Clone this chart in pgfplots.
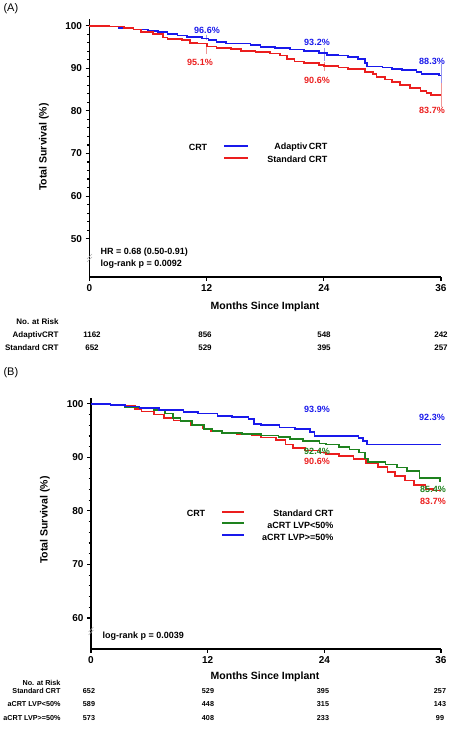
\documentclass[border=0pt]{standalone}
\usepackage{fontspec}
\setmainfont{Liberation Sans}
\usepackage{pgfplots}
\pgfplotsset{compat=1.18}
\definecolor{cblue}{RGB}{25,25,235}
\definecolor{cred}{RGB}{235,30,30}
\definecolor{cgreen}{RGB}{30,130,30}
\definecolor{lblue}{RGB}{150,150,240}
\definecolor{lred}{RGB}{240,150,150}
\pgfplotsset{
  km/.style={
    scale only axis, clip=false, anchor=south west,
    axis x line*=bottom, axis y line*=left,
    axis line style={line width=1.5pt,-},
    xmin=0, xmax=36, xtick={0,12,24,36},
    tick style={black, line width=1.1pt},
    major tick length=4pt, minor tick length=2.5pt,
    tick align=outside,
    tick label style={font=\bfseries\fontsize{10}{12}\selectfont},
    /pgf/number format/assume math mode=true,
  },
  kmline/.style={const plot, line width=1.7pt, line join=miter},
}
\begin{document}
\begin{tikzpicture}
\useasboundingbox (0,0) rectangle (450pt,732pt);
% ---------------- Panel A ----------------
\begin{axis}[km, at={(89.5pt,455pt)}, width=351.5pt, height=257.7pt,
  ymin=41, ymax=101.5, ytick={50,60,...,100}, minor ytick={52,54,...,98}]
\addplot[lblue, line width=0.5pt] coordinates {(12,97.9)(12,96.6)};
\addplot[lred, line width=0.5pt] coordinates {(12,95.1)(12,93.3)};
\addplot[lblue, line width=0.5pt] coordinates {(24,94.8)(24,91.6)};
\addplot[lred, line width=0.5pt] coordinates {(24,91.5)(24,89.4)};
\addplot[lblue, line width=0.5pt] coordinates {(36,91.0)(36,86.0)};
\addplot[lred, line width=0.5pt] coordinates {(36,86.5)(36,80.8)};
\addplot[cblue, kmline] coordinates {
(0,100)(1.5,99.8)(3,99.4)(4.5,99.1)(6,98.8)(7,98.5)(8,98.1)(9,97.7)(10,97.3)
(11.5,97.0)(12.2,96.6)(13,96.1)(14,95.8)(16.5,95.4)(17.5,95.0)(19,94.7)(20.5,94.4)
(22,94.0)(23.5,93.6)(24.3,93.2)(25.5,93.0)(26.5,92.6)(27.5,92.2)(28.2,91.3)(28.4,90.4)
(30,90.2)(31,89.9)(32,89.6)(33.5,89.2)(34,88.6)(35.8,88.3)(36,88.3)};
\addplot[cred, kmline] coordinates {
(0,100)(2,99.8)(3.5,99.4)(4.5,99.1)(5.3,98.5)(6.5,98.0)(7.5,97.2)(8,96.8)(9.5,96.6)
(10.3,96.0)(11,95.8)(12,95.1)(13,94.8)(14.5,94.5)(15.5,94.1)(17,93.9)(18.5,93.5)
(19.5,93.0)(20.2,92.2)(21,91.6)(22,91.2)(23.5,90.8)(24,90.6)(25.5,90.2)(26.5,89.8)
(28.2,89.2)(29,88.6)(29.4,88.0)(30.3,87.4)(31,86.8)(31.8,86.1)(32.8,85.4)(33.9,84.7)
(34.5,84.2)(35,83.7)(36,83.7)};
\end{axis}
\draw[gray!60, line width=0.5pt] (87pt,470pt)--(92pt,475pt) (87pt,473pt)--(92pt,478pt);
\node[anchor=west, font=\fontsize{11}{13}\selectfont] at (0pt,723pt) {(A)};
\node[rotate=90, font=\bfseries\fontsize{10.5}{12}\selectfont] at (44pt,585pt) {Total Survival (\%)};
\begin{scope}[font=\bfseries\fontsize{9}{11}\selectfont]
\node[cblue] at (207pt,702pt) {96.6\%};
\node[cred] at (200pt,670pt) {95.1\%};
\node[cblue] at (317pt,690pt) {93.2\%};
\node[cred] at (317pt,652pt) {90.6\%};
\node[cblue] at (432pt,671pt) {88.3\%};
\node[cred] at (432pt,622pt) {83.7\%};
\node at (198pt,585pt) {CRT};
\draw[cblue, line width=1.5pt] (224pt,586pt)--(248pt,586pt);
\node[anchor=east] at (331pt,585pt) {Adaptiv\,CRT};
\draw[cred, line width=1.5pt] (224pt,574pt)--(248pt,574pt);
\node[anchor=east] at (331pt,573pt) {Standard CRT};
\node[anchor=west] at (97pt,480pt) {HR = 0.68 (0.50-0.91)};
\node[anchor=west] at (97pt,468pt) {log-rank p = 0.0092};
\end{scope}
\node[font=\bfseries\fontsize{10.5}{12}\selectfont] at (265pt,425pt) {Months Since Implant};
\begin{scope}[font=\bfseries\fontsize{8}{10}\selectfont]
\node[anchor=east] at (62pt,410pt) {No. at Risk};
\node[anchor=east] at (62pt,397pt) {AdaptivCRT};
\node[anchor=east] at (62pt,384pt) {Standard CRT};
\node at (92pt,397pt) {1162}; \node at (205pt,397pt) {856}; \node at (324pt,397pt) {548}; \node at (441pt,397pt) {242};
\node at (92pt,384pt) {652}; \node at (205pt,384pt) {529}; \node at (324pt,384pt) {395}; \node at (441pt,384pt) {257};
\end{scope}
% ---------------- Panel B ----------------
\begin{axis}[km, at={(91pt,83pt)}, width=350pt, height=251pt,
  ymin=54.2, ymax=101.1, ytick={60,70,...,100}, minor ytick={62,64,...,98}]
\addplot[cred, kmline] coordinates {
(0,100)(1,99.9)(3.5,99.6)(4.5,99.0)(5.2,98.6)(6.5,98.0)(7.5,97.3)(8.5,96.9)(10.3,96.1)
(11.5,95.4)(12.3,94.9)(13.5,94.6)(15,94.3)(16.5,94.1)(17.5,93.7)(19,93.2)(20,92.4)
(20.8,91.7)(22,91.3)(23.5,90.9)(24.2,90.6)(25.5,90.2)(27,89.7)(28.3,89.0)(29.5,88.2)
(30.5,87.3)(31.3,86.5)(32.3,85.7)(33.2,84.9)(34.4,84.1)(35.2,83.8)(36,83.8)};
\addplot[cgreen, kmline] coordinates {
(0,100)(2,99.7)(3.5,99.4)(5,99.2)(6.5,98.8)(7.6,98.2)(8.4,97.3)(9.2,96.8)(10.4,96.1)
(11.6,95.3)(12.5,94.9)(13.5,94.6)(15.5,94.4)(17.5,94.1)(19.3,93.8)(20.5,93.4)(21.8,93.0)
(23.5,92.6)(24.2,92.4)(25.5,92.0)(26.6,91.5)(27.6,90.9)(28.2,89.8)(28.5,89.1)(30.3,88.7)
(31.5,88.1)(32.5,87.4)(33.8,86.1)(35.9,85.6)(36,85.6)};
\addplot[cblue, kmline] coordinates {
(0,100)(2,99.8)(3.5,99.5)(5,99.2)(7,98.9)(9.5,98.5)(11,98.2)(13,97.8)(14.5,97.5)
(16.2,97.2)(16.8,96.3)(17.5,96.0)(19.4,95.6)(21,95.3)(22.5,94.8)(23,94.0)(27.5,93.6)
(28,93.0)(28.4,92.4)(36,92.4)};
\end{axis}
\draw[gray!60, line width=0.5pt] (88.5pt,97pt)--(93.5pt,102pt) (88.5pt,100pt)--(93.5pt,105pt);
\node[anchor=west, font=\fontsize{11}{13}\selectfont] at (0pt,359pt) {(B)};
\node[rotate=90, font=\bfseries\fontsize{10.5}{12}\selectfont] at (45pt,212pt) {Total Survival (\%)};
\begin{scope}[font=\bfseries\fontsize{9}{11}\selectfont]
\node[cblue] at (317pt,323pt) {93.9\%};
\node[cblue] at (432pt,315pt) {92.3\%};
\node[cgreen] at (317pt,281pt) {92.4\%};
\node[cred] at (317pt,271pt) {90.6\%};
\node[cgreen] at (433pt,243pt) {85.4\%};
\node[cred] at (433pt,231pt) {83.7\%};
\node at (196pt,219pt) {CRT};
\draw[cred, line width=1.5pt] (222pt,220pt)--(244pt,220pt);
\node[anchor=east] at (337pt,219pt) {Standard CRT};
\draw[cgreen, line width=1.5pt] (222pt,209pt)--(244pt,209pt);
\node[anchor=east] at (337pt,207pt) {aCRT LVP<50\%};
\draw[cblue, line width=1.5pt] (222pt,197pt)--(244pt,197pt);
\node[anchor=east] at (337pt,195pt) {aCRT LVP>=50\%};
\node[anchor=west] at (99pt,96pt) {log-rank p = 0.0039};
\end{scope}
\node[font=\bfseries\fontsize{10.5}{12}\selectfont] at (265pt,55pt) {Months Since Implant};
\begin{scope}[font=\bfseries\fontsize{7.2}{8}\selectfont]
\node[anchor=east] at (64pt,49pt) {No. at Risk};
\node[anchor=east] at (64pt,41pt) {Standard CRT};
\node[anchor=east] at (64pt,28pt) {aCRT LVP<50\%};
\node[anchor=east] at (64pt,14pt) {aCRT LVP>=50\%};
\node at (89pt,41pt) {652}; \node at (208pt,41pt) {529}; \node at (323pt,41pt) {395}; \node at (440pt,41pt) {257};
\node at (89pt,28pt) {589}; \node at (208pt,28pt) {448}; \node at (323pt,28pt) {315}; \node at (440pt,28pt) {143};
\node at (89pt,14pt) {573}; \node at (208pt,14pt) {408}; \node at (323pt,14pt) {233}; \node at (440pt,14pt) {99};
\end{scope}
\end{tikzpicture}
\end{document}
